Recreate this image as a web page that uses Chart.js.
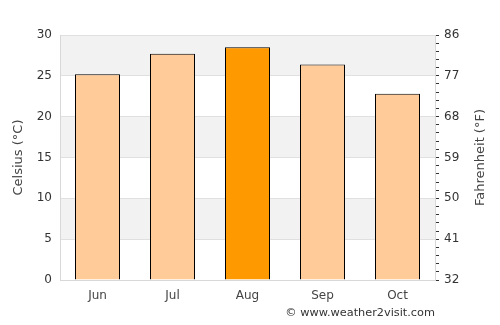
<!DOCTYPE html>
<html>
<head>
<meta charset="utf-8">
<script src="https://cdn.jsdelivr.net/npm/chart.js@4.4.0/dist/chart.umd.min.js"></script>
<style>
  html, body { margin: 0; padding: 0; background: #fff; }
  #wrap { width: 500px; height: 325px; position: relative; }
</style>
</head>
<body>
<div id="wrap"><canvas id="tempChart"></canvas></div>
<script>
// monthly average temperature (°C)
const months = ['Jun', 'Jul', 'Aug', 'Sep', 'Oct'];
const celsius = [25.2, 27.7, 28.5, 26.4, 22.8];
const barColors = ['#FFCC99', '#FFCC99', '#FF9900', '#FFCC99', '#FFCC99'];
const fahrenheitLabels = [32, 41, 50, 59, 68, 77, 86];

const toF = c => 32 + c * 1.8;

document.addEventListener("DOMContentLoaded", function () {
    const ctx = document.getElementById('tempChart').getContext('2d');

    // grey bands behind the bars
    const bands = {
        id: 'bands',
        beforeDraw(chart) {
            const { ctx, chartArea, scales } = chart;
            const y = scales.y;
            ctx.save();
            ctx.fillStyle = '#f2f2f2';
            [[5, 10], [15, 20], [25, 30]].forEach(function (b) {
                const top = y.getPixelForValue(b[1]);
                const bottom = y.getPixelForValue(b[0]);
                ctx.fillRect(chartArea.left, top, chartArea.right - chartArea.left, bottom - top);
            });
            ctx.restore();
        }
    };

    // axis titles (both read bottom to top) + credit line
    const extras = {
        id: 'extras',
        afterDraw(chart) {
            const c = chart.ctx;
            const area = chart.chartArea;
            const midY = (area.top + area.bottom) / 2;
            c.save();
            c.fillStyle = '#444';
            c.font = '13px "DejaVu Sans"';
            c.textAlign = 'center';
            c.textBaseline = 'middle';
            [[19, 'Celsius (°C)'], [481, 'Fahrenheit (°F)']].forEach(function (t) {
                c.save();
                c.translate(t[0], midY);
                c.rotate(-Math.PI / 2);
                c.fillText(t[1], 0, 0);
                c.restore();
            });
            c.font = '11.3px "DejaVu Sans"';
            c.fillStyle = '#333';
            c.textAlign = 'right';
            c.fillText('\u00a9 www.weather2visit.com', area.right, 313);
            c.restore();
        }
    };

    const tickFont = { family: 'DejaVu Sans', size: 12 };

    new Chart(ctx, {
        type: 'bar',
        data: {
            labels: months,
            datasets: [{
                data: celsius,
                backgroundColor: barColors,
                borderColor: '#000',
                borderWidth: 1,
                barPercentage: 0.6,
                categoryPercentage: 1.0
            }]
        },
        options: {
            responsive: true,
            maintainAspectRatio: false,
            animation: false,
            layout: { padding: { top: 35, left: 0, right: 0, bottom: 0 } },
            plugins: {
                legend: { display: false },
                tooltip: { enabled: false }
            },
            scales: {
                x: {
                    grid: { display: false, drawTicks: false },
                    border: { color: '#d8d8d8' },
                    ticks: { color: '#444', font: tickFont, padding: 9 },
                    afterFit(s) { s.height = 45; }
                },
                y: {
                    position: 'left',
                    min: 0, max: 30,
                    ticks: { stepSize: 5, color: '#333', font: tickFont, padding: 8 },
                    grid: { color: '#e0e0e0', drawTicks: false },
                    border: { color: '#d8d8d8' },
                    afterFit(s) { s.width = 60; }
                },
                y2: {
                    position: 'right',
                    min: toF(0), max: toF(30),
                    // one small tick per °C, labelled every 5 °C
                    afterBuildTicks(s) {
                        const t = [];
                        for (let c = 0; c <= 30; c++) t.push({ value: toF(c) });
                        s.ticks = t;
                    },
                    ticks: {
                        autoSkip: false,
                        color: '#333',
                        font: tickFont,
                        padding: 5,
                        callback: function (v) {
                            const r = Math.round(v * 10) / 10;
                            return fahrenheitLabels.includes(r) ? String(r) : '';
                        }
                    },
                    grid: { drawOnChartArea: false, drawTicks: true, tickLength: 4, color: '#333' },
                    border: { color: '#d8d8d8' },
                    afterFit(s) { s.width = 65; }
                }
            }
        },
        plugins: [bands, extras]
    });
});
</script>
</body>
</html>
